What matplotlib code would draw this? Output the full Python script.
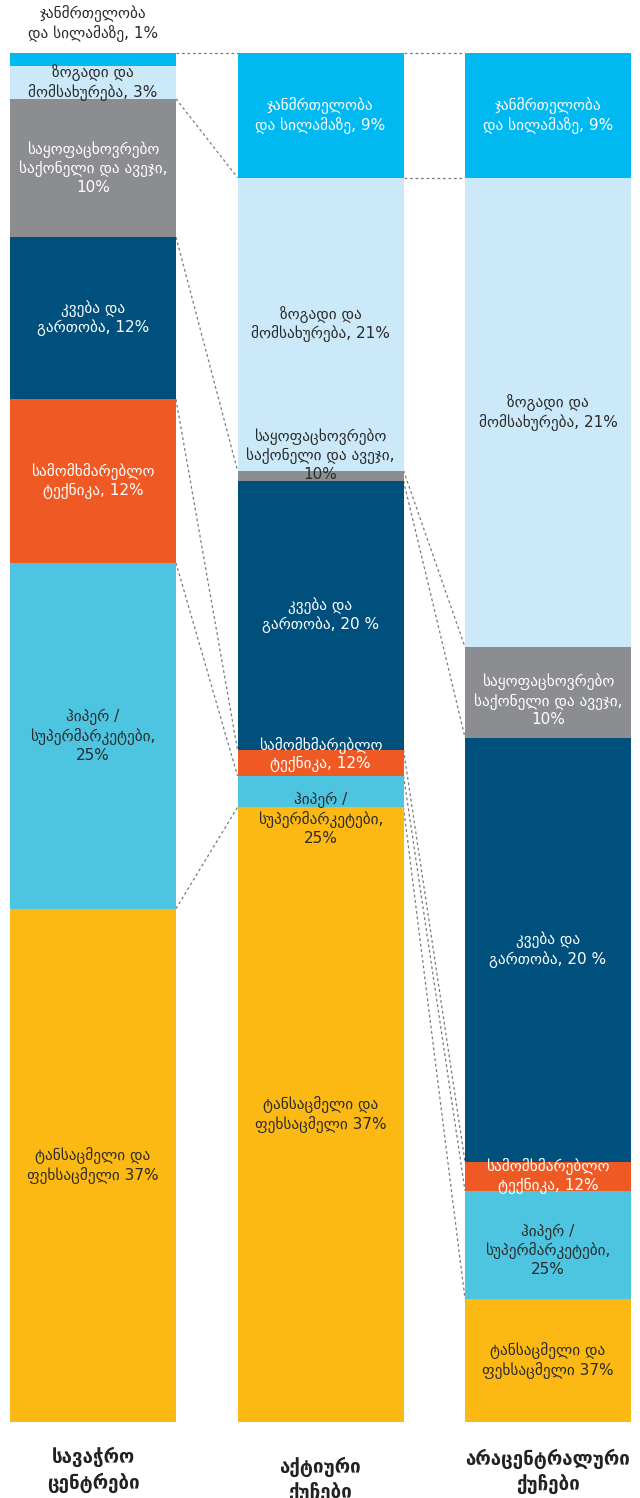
import matplotlib
matplotlib.use("Agg")
import matplotlib.pyplot as plt
import numpy as np

plt.rcParams['font.family'] = ['DejaVu Sans']

# Store formats (columns) and product categories (stacked top to bottom)
columns = ["სავაჭრო\nცენტრები", "აქტიური\nქუჩები", "არაცენტრალური\nქუჩები"]
categories = ["health", "general", "household", "food", "electronics", "hyper", "clothes"]

# Share of each category, %
shopping_centres = [0.95, 2.4, 10.1, 11.85, 11.95, 25.25, 37.5]
active_streets = [9.1, 21.4, 0.75, 19.65, 1.9, 2.3, 44.9]
other_streets = [9.1, 34.3, 6.6, 31.0, 2.1, 7.9, 9.0]
shares = [shopping_centres, active_streets, other_streets]

# Segment labels as printed
labels_col1 = [
    "ჯანმრთელობა\nდა სილამაზე, 1%",
    "ზოგადი და\nმომსახურება, 3%",
    "საყოფაცხოვრებო\nსაქონელი და ავეჯი,\n10%",
    "კვება და\nგართობა, 12%",
    "სამომხმარებლო\nტექნიკა, 12%",
    "ჰიპერ /\nსუპერმარკეტები,\n25%",
    "ტანსაცმელი და\nფეხსაცმელი 37%",
]
labels_col2 = [
    "ჯანმრთელობა\nდა სილამაზე, 9%",
    "ზოგადი და\nმომსახურება, 21%",
    "საყოფაცხოვრებო\nსაქონელი და ავეჯი,\n10%",
    "კვება და\nგართობა, 20 %",
    "სამომხმარებლო\nტექნიკა, 12%",
    "ჰიპერ /\nსუპერმარკეტები,\n25%",
    "ტანსაცმელი და\nფეხსაცმელი 37%",
]
labels_col3 = [
    "ჯანმრთელობა\nდა სილამაზე, 9%",
    "ზოგადი და\nმომსახურება, 21%",
    "საყოფაცხოვრებო\nსაქონელი და ავეჯი,\n10%",
    "კვება და\nგართობა, 20 %",
    "სამომხმარებლო\nტექნიკა, 12%",
    "ჰიპერ /\nსუპერმარკეტები,\n25%",
    "ტანსაცმელი და\nფეხსაცმელი 37%",
]
labels = [labels_col1, labels_col2, labels_col3]

colors = ["#00B9F1", "#CCE9F9", "#8C8D91", "#00507D", "#EF5A24", "#4DC5E1", "#FDB913"]
text_colors = ["white", "#2b2b2b", "white", "white", "white", "#2b2b2b", "#2b2b2b"]

# Boundary links between neighbouring columns: (boundary on left, boundary on right)
links_12 = [(0, 0), (2, 1), (3, 2), (4, 4), (5, 5), (6, 6)]
links_23 = [(0, 0), (1, 1), (2, 2), (3, 3), (4, 4), (5, 5), (6, 6)]

W, H, DPI = 640, 1498, 100
fig = plt.figure(figsize=(W / DPI, H / DPI), dpi=DPI)
left_px, right_px, top_px, bot_px = 10, 631, 53, 1422
ax = fig.add_axes([left_px / W, 1 - bot_px / H, (right_px - left_px) / W, (bot_px - top_px) / H])

spacing = 227.5
xpos = np.arange(3)
width = 166 / spacing
ax.set_xlim(-(93 - left_px) / spacing, 2 + (right_px - 548) / spacing)
ax.set_ylim(100, 0)
ax.axis("off")

bounds = []
for i, vals in enumerate(shares):
    vals = np.asarray(vals)
    bottoms = np.concatenate([[0], np.cumsum(vals)[:-1]])
    ax.bar(np.full(len(vals), xpos[i]), vals, bottom=bottoms, width=width,
           color=colors, edgecolor="none", zorder=2)
    bounds.append(np.concatenate([[0], np.cumsum(vals)]))

# Dashed connectors between columns
for (a, b), links in (((0, 1), links_12), ((1, 2), links_23)):
    xa = xpos[a] + width / 2
    xb = xpos[b] - width / 2
    for ka, kb in links:
        ax.plot([xa, xb], [bounds[a][ka], bounds[b][kb]], color="#7a7a7a",
                lw=0.9, ls=(0, (2.2, 2.2)), zorder=1, clip_on=False)

# Label placement tweaks (in % units) where a label does not sit mid-segment
shift = {(0, 0): -2.6, (1, 2): -1.5, (1, 4): -0.6, (1, 5): 2.0,
         (2, 2): 0.6, (2, 5): 0.4}
fs = 11
for i in range(3):
    b = bounds[i]
    for j, txt in enumerate(labels[i]):
        yc = (b[j] + b[j + 1]) / 2 + shift.get((i, j), 0.0)
        col = text_colors[j]
        if (i, j) in [(0, 0), (1, 2)]:
            col = "#2b2b2b"
        ax.text(xpos[i], yc, txt, ha="center", va="center", fontsize=fs,
                color=col, linespacing=1.22, zorder=3, clip_on=False)

title_y = [103.5, 104.2, 103.6]
for i, name in enumerate(columns):
    ax.text(xpos[i], title_y[i], name, ha="center", va="center", fontsize=13.5,
            fontweight="bold", color="#222222", linespacing=1.35, clip_on=False)

fig.savefig("out.png", dpi=DPI, facecolor="white")
